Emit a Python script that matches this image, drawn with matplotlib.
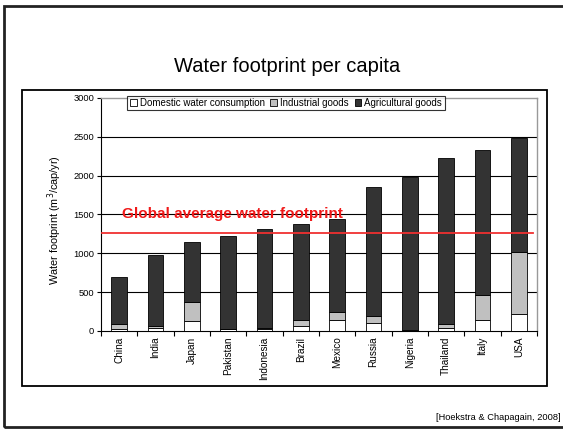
import numpy as np
import matplotlib
matplotlib.use("Agg")
import matplotlib.pyplot as plt
from matplotlib.patches import Rectangle

plt.rcParams['font.family'] = ['Liberation Sans', 'DejaVu Sans']

countries = ["China", "India", "Japan", "Pakistan", "Indonesia", "Brazil",
             "Mexico", "Russia", "Nigeria", "Thailand", "Italy", "USA"]
# m3/cap/yr
domestic = [30, 40, 135, 20, 25, 70, 140, 103, 5, 35, 145, 217]
industrial = [65, 20, 235, 10, 20, 68, 100, 87, 5, 60, 315, 800]
agricultural = [605, 920, 780, 1190, 1272, 1243, 1201, 1668, 1969, 2128, 1872, 1466]
global_avg = 1265

fig = plt.figure(figsize=(5.63, 4.29), dpi=100)

# slide frame and chart frame
fig.patches.append(Rectangle((4/563, 1-427/429), 1.2, 421/429, transform=fig.transFigure,
                             fill=False, lw=2.0, ec='#222222', zorder=0))
fig.patches.append(Rectangle((22/563, 1-386/429), 525/563, 296/429, transform=fig.transFigure,
                             fill=False, lw=1.3, ec='black', zorder=0))

fig.text(0.51, 1-72/429, "Water footprint per capita", ha='center', va='baseline', fontsize=14.5)
fig.text(561/563, 1-420/429, "[Hoekstra & Chapagain, 2008]", ha='right', va='baseline', fontsize=6.7)

ax = fig.add_axes([101/563, 1-331/429, 436/563, 233/429])
x = np.arange(len(countries))
w = 0.44
dom = np.array(domestic)
ind = np.array(industrial)
agr = np.array(agricultural)
ax.bar(x, dom, w, color='white', edgecolor='black', lw=0.6, zorder=3, label="Domestic water consumption")
ax.bar(x, ind, w, bottom=dom, color='#c0c0c0', edgecolor='black', lw=0.6, zorder=3, label="Industrial goods")
ax.bar(x, agr, w, bottom=dom+ind, color='#333333', edgecolor='black', lw=0.6, zorder=3, label="Agricultural goods")

ax.set_xlim(-0.5, len(countries)-0.5)
ax.set_ylim(0, 3000)
ax.set_yticks(np.arange(0, 3001, 500))
for v in range(500, 3000, 500):
    ax.axhline(v, color='black', lw=0.8, zorder=1)

ax.plot([-0.47, 11.39], [global_avg, global_avg], color='#f03030', lw=1.3, zorder=4)
ax.text(0.08, 1453, "Global average water footprint", color='#f01818', fontsize=11,
        fontweight='bold', va='baseline', ha='left', zorder=5)

ax.set_xticks(x)
ax.set_xticklabels(countries, rotation=90, fontsize=7.2)
ax.tick_params(axis='x', which='major', length=0, pad=4)
ax.set_xticks(np.arange(-0.5, len(countries)), minor=True)
ax.tick_params(axis='x', which='minor', length=3.5, width=0.8, direction='out')
ax.tick_params(axis='y', labelsize=6.7, length=3, width=0.8, pad=2)

for s in ['top', 'right']:
    ax.spines[s].set_color('#999999')
    ax.spines[s].set_linewidth(1.0)
for s in ['left', 'bottom']:
    ax.spines[s].set_color('black')
    ax.spines[s].set_linewidth(0.8)

fig.text(55/563, 1-220/429, "Water footprint (m$^3$/cap/yr)", rotation=90,
         ha='center', va='center', fontsize=7.8)

leg = ax.legend(loc='center', bbox_to_anchor=(286/563, 1-103/429), bbox_transform=fig.transFigure,
                ncol=3, fontsize=7.0, frameon=True, fancybox=False, handlelength=0.7,
                handleheight=0.7, handletextpad=0.3, columnspacing=0.6, borderpad=0.25,
                borderaxespad=0)
leg.get_frame().set_edgecolor('black')
leg.get_frame().set_linewidth(0.8)
leg.set_zorder(6)

fig.savefig("out.png", dpi=100)
